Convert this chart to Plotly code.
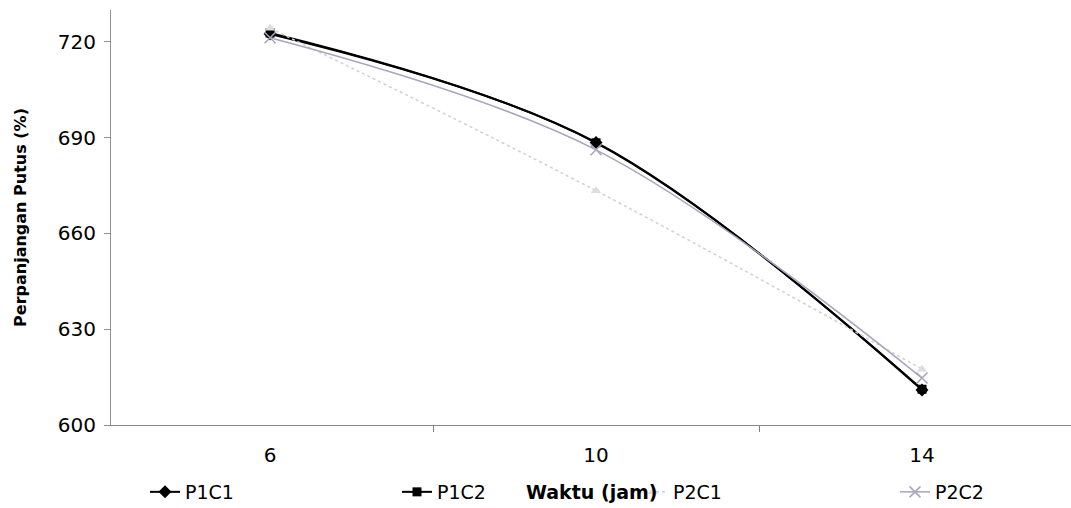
import plotly.graph_objects as go

categories = ["6", "10", "14"]
p1c1 = [722.5, 688.5, 611.0]
p1c2 = [722.8, 688.4, 611.2]
p2c1 = [724.3, 673.4, 617.5]
p2c2 = [721.3, 686.2, 614.7]
y_ticks = [600, 630, 660, 690, 720]

FONT = "DejaVu Sans"
W, H = 1071, 508
PLOT_TOP, PLOT_BOTTOM = 10, 425

fig = go.Figure()
fig.add_trace(go.Scatter(
    x=categories, y=p1c1, name="P1C1", mode="lines+markers", legend="legend",
    line=dict(color="black", width=2, shape="spline", smoothing=1),
    marker=dict(symbol="diamond", size=10, color="black")))
fig.add_trace(go.Scatter(
    x=categories, y=p1c2, name="P1C2", mode="lines+markers", legend="legend2",
    line=dict(color="black", width=2, shape="spline", smoothing=1),
    marker=dict(symbol="square", size=9, color="black")))
fig.add_trace(go.Scatter(
    x=categories, y=p2c1, name="P2C1", mode="lines+markers", legend="legend3",
    line=dict(color="#cfcfd6", width=1.5, dash="dot", shape="spline", smoothing=1),
    marker=dict(symbol="triangle-up", size=9, color="#dcdce2")))
fig.add_trace(go.Scatter(
    x=categories, y=p2c2, name="P2C2", mode="lines+markers", legend="legend4",
    line=dict(color="#aaa4bc", width=1.5, shape="spline", smoothing=1),
    marker=dict(symbol="x-thin", size=11, color="#aaa4bc",
                line=dict(width=1.5, color="#aaa4bc"))))

def leg(text_left_px):
    return dict(
        orientation="h", xref="container", yref="container",
        x=(text_left_px - 40) / W, y=16 / H, xanchor="left", yanchor="middle",
        font=dict(family=FONT, size=19, color="black"),
        bgcolor="rgba(0,0,0,0)")

fig.update_layout(
    width=W, height=H,
    margin=dict(l=111, r=0, t=PLOT_TOP, b=H - PLOT_BOTTOM),
    paper_bgcolor="white", plot_bgcolor="white",
    font=dict(family=FONT, color="black"),
    showlegend=True,
    legend=leg(185), legend2=leg(437), legend3=leg(673), legend4=leg(935),
    annotations=[dict(
        text="<b>Waktu (jam)</b>", xref="paper", yref="paper",
        x=0.5, y=-(492 - PLOT_BOTTOM) / (PLOT_BOTTOM - PLOT_TOP),
        xanchor="center", yanchor="middle", showarrow=False,
        font=dict(family=FONT, size=19, color="black"))],
)
fig.update_xaxes(
    type="category", range=[-0.488, 2.457], automargin=False,
    showgrid=False, zeroline=False,
    showline=True, linecolor="#7f86a8", linewidth=1,
    ticks="outside", tickson="boundaries", ticklen=6, tickcolor="#808080",
    ticklabelstandoff=12,
    tickfont=dict(family=FONT, size=20),
)
fig.update_yaxes(
    range=[600, 730], tickvals=y_ticks, automargin=False,
    showgrid=False, zeroline=False,
    showline=True, linecolor="#909090", linewidth=1,
    ticks="outside", ticklen=6, tickcolor="#909090", ticklabelstandoff=4,
    tickfont=dict(family=FONT, size=20),
    title=dict(text="<b>Perpanjangan Putus (%)</b>", font=dict(family=FONT, size=16), standoff=27),
)

fig.write_html("out.html")
